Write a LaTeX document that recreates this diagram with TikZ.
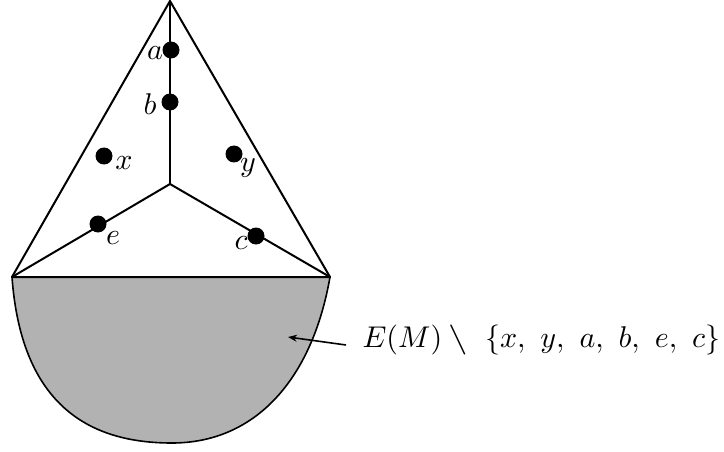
\documentclass[tikz,border=0pt]{standalone}
\usepackage{amssymb}
\usetikzlibrary{arrows.meta}
\begin{document}
\begin{tikzpicture}[x=1pt,y=-1pt,
  edge/.style={line width=2pt,line cap=round,line join=round},
  dot/.style={circle,fill=black,inner sep=0pt,minimum size=17pt},
  lab/.style={scale=3.0,inner sep=0pt},
  >={Stealth[length=9pt,width=7pt]}]
\useasboundingbox (0,0) rectangle (724,452);
% shaded region
\filldraw[fill=black!30,line width=1.6pt] (12,277) -- (330,277)
  .. controls (312,380) and (255,443) .. (172,443)
  .. controls (100,443) and (22,415) .. (12,277) -- cycle;
% triangle
\coordinate (top) at (170,1);
\coordinate (L) at (12,277);
\coordinate (R) at (330,277);
\coordinate (C) at (170,184);
\draw[edge] (L) -- (top) -- (R) -- cycle;
\draw[edge] (top) -- (C);
\draw[edge] (C) -- (L);
\draw[edge] (C) -- (R);
% dots
\node[dot] (a) at (171,50) {};
\node[dot] (b) at (170,102) {};
\node[dot] (x) at (104,156) {};
\node[dot] (y) at (234,154) {};
\node[dot] (e) at (98,224) {};
\node[dot] (c) at (256,236) {};
\node[lab] (la) at (155,53) {$a$};
\node[lab] (lb) at (150,104) {$b$};
\node[lab] (lx) at (124,163) {$x$};
\node[lab] (ly) at (248,168) {$y$};
\node[lab] (le) at (113,238) {$e$};
\node[lab] (lc) at (241,243) {$c$};
% label and arrow
\node[lab,anchor=west] (t) at (362,340) {$E(M)\mathbin{\scalebox{1.3}[1]{$\setminus$}}\ \{x,\ y,\ a,\ b,\ e,\ c\}$};
\coordinate (p) at (288,337);
\draw[->,line width=1.6pt] (t.west) ++(-16,5) -- (p);
\end{tikzpicture}
\end{document}
